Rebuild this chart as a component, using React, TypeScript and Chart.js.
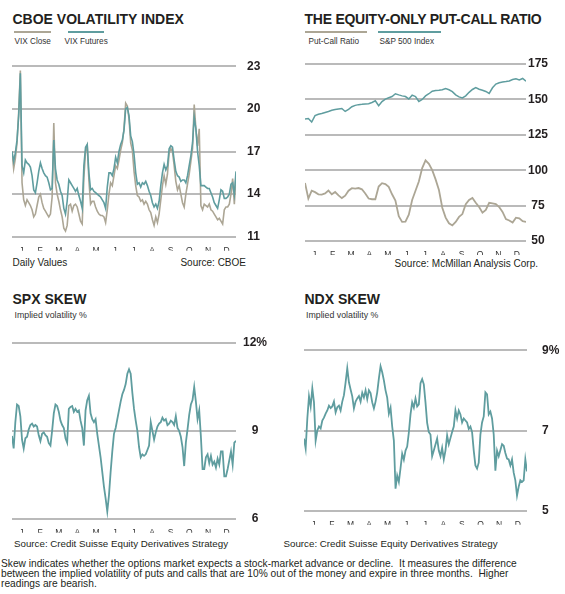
import React, { useEffect, useRef } from "react";
import { Chart, registerables } from "chart.js";

Chart.register(...registerables);

const FONT = "'Liberation Sans', Arial, sans-serif";
const TEAL = "#5f9d9f";
const TAN = "#aca695";
const GRID = "#bababa";

const MONTHS = ["J", "F", "M", "A", "M", "J", "J", "A", "S", "O", "N", "D"];

// CBOE Volatility Index (daily values, sampled)
const vixFutures = [
  17.0, 16.3, 16.9, 17.8, 19.5, 22.5, 16.0, 15.5, 16.4, 16.2,
  16.1, 15.9, 15.3, 14.3, 14.1, 14.8, 15.6, 16.2, 15.8, 15.5,
  15.3, 15.2, 14.8, 14.3, 14.4, 17.8, 15.8, 15.0, 14.7, 14.2,
  13.9, 13.0, 12.6, 13.5, 15.0, 14.8, 14.6, 14.4, 14.2, 14.4,
  13.9, 13.5, 13.0, 16.0, 17.3, 17.5, 15.5, 14.3, 14.4, 14.2,
  14.1, 14.0, 13.9, 13.8, 13.6, 13.4, 13.0, 14.5, 15.5, 15.5,
  15.3, 15.8, 16.6, 16.2, 17.0, 17.5, 17.8, 18.5, 20.0, 20.1,
  19.5, 18.1, 17.7, 16.8, 15.5, 14.7, 14.8, 14.5, 14.8, 14.7,
  14.9, 14.6, 14.2, 13.9, 13.4, 13.1, 13.3, 13.0, 13.5, 14.6,
  15.5, 16.1, 15.7, 16.0, 17.2, 17.4, 17.3, 16.4, 15.6, 15.3,
  15.2, 14.9, 15.0, 15.0, 14.8, 15.3, 16.0, 16.7, 17.6, 19.4,
  18.6, 17.0, 16.0, 14.6, 14.6, 14.6, 14.5, 14.4, 14.4, 14.1,
  13.8, 13.4, 13.2, 13.0, 13.6, 14.3, 14.2, 13.7, 13.7, 13.8,
  14.0, 14.7, 14.8, 14.0, 15.6,
];
const vixClose = [
  17.0, 15.8, 16.5, 17.6, 19.8, 22.7, 14.8, 13.6, 13.2, 13.6,
  13.4, 13.2, 12.9, 12.4, 12.6, 13.2, 13.8, 14.0, 13.4, 13.0,
  12.8, 12.6, 12.4, 12.6, 13.8, 19.0, 14.8, 14.0, 13.5, 12.9,
  12.4, 11.6, 11.4, 11.8, 13.2, 13.3, 12.8, 13.2, 13.3, 13.1,
  12.6, 12.1, 11.9, 15.2, 17.0, 17.4, 15.0, 13.3, 13.5, 13.5,
  13.1, 12.8, 12.6, 12.5, 12.5, 12.4, 12.0, 12.9, 14.0, 14.8,
  14.6, 15.3, 16.0, 15.8, 16.4, 17.1, 17.6, 18.6, 20.4, 20.2,
  19.3, 17.6, 17.1, 15.6, 14.6, 13.9, 13.8, 13.5, 13.6, 13.3,
  13.5, 13.3, 12.9, 12.7, 12.2, 11.8, 12.4, 12.0, 12.6, 13.6,
  14.6, 15.3, 14.7, 15.4, 16.9, 17.2, 17.0, 16.0, 14.9, 14.3,
  14.6, 14.0, 13.4, 13.1, 14.0, 14.7, 15.4, 16.3, 17.2, 20.3,
  18.6, 17.4, 18.6, 13.2, 12.9, 13.3, 13.2, 13.1, 13.3, 12.9,
  12.8, 12.6, 12.4, 12.2, 12.3, 12.1, 11.9, 12.9, 13.1, 13.1,
  13.3, 14.0, 15.1, 13.3, 15.3,
];

// Equity-only put-call ratio and S&P 500 index
const putCall = [
  91, 80, 85.5, 84.5, 83, 82.8, 83.6, 85.6, 83, 84.6,
  82.2, 80.3, 82, 85.5, 87.3, 87, 87.4, 86.5, 83.5, 80,
  79.5, 79.5, 88.5, 90.8, 90.2, 88.2, 83, 78.5, 67.5, 63.5,
  63.6, 68.6, 79, 85.5, 92, 101.5, 107, 104.5, 100, 93.5,
  86, 73.5, 66.5, 62.5, 61, 63.5, 67, 69, 76, 79,
  80.4, 77, 74, 70, 72, 77, 76.5, 76, 74, 70.5,
  65.5, 64.5, 63, 66.5, 66, 64, 63.5,
];
const sp500 = [
  136.1, 136.5, 134.0, 138.5, 139.5, 140.0, 140.8, 141.5, 142.3, 142.8,
  143.2, 143.6, 141.5, 143.0, 144.8, 145.8, 146.3, 146.5, 146.8, 147.0,
  147.8, 149.0, 145.5, 148.5, 150.2, 151.2, 152.0, 154.0, 153.2, 152.5,
  152.0, 150.3, 153.0, 152.0, 148.5, 150.0, 152.5, 154.0, 155.8, 156.3,
  156.5, 156.8, 157.6, 156.8, 155.5, 153.2, 151.8, 151.0, 152.5, 155.0,
  157.0, 158.4, 157.2, 156.5, 155.6, 154.2, 158.2, 160.8, 161.8, 162.3,
  162.6, 163.0, 164.0, 164.6, 163.8, 164.8, 162.8,
];

// SPX skew, implied volatility %
const spxSkew = [
  8.83, 8.4, 9.3, 9.9, 9.85, 9.5, 8.7, 8.4, 8.75, 8.8,
  9.05, 9.2, 9.25, 9.15, 9.2, 9.15, 8.85, 8.65, 8.9, 8.95,
  8.85, 8.8, 8.58, 8.5, 9.0, 9.6, 9.9, 9.85, 9.65, 9.35,
  9.2, 9.1, 8.75, 8.6, 9.75, 9.82, 9.85, 9.65, 9.75, 9.65,
  9.7, 9.35, 9.1, 8.5, 9.7, 10.05, 10.2, 9.6, 9.4, 9.3,
  9.4, 8.9, 8.5, 8.1, 7.6, 7.1, 6.7, 6.25, 6.8, 7.6,
  8.3, 8.9, 9.1, 9.4, 9.7, 10.0, 10.25, 10.4, 10.6, 10.95,
  11.1, 10.95, 10.3, 9.75, 9.35, 9.0, 8.45, 8.1, 8.2, 8.15,
  8.2, 8.35, 8.5, 9.3, 9.0, 8.7, 8.95, 9.15, 9.25, 9.3,
  9.45, 9.35, 9.4, 9.2, 9.25, 9.35, 9.3, 9.2, 9.5, 9.1,
  9.0, 8.8, 8.45, 7.8, 8.6, 9.05, 9.55, 9.9, 10.05, 10.5,
  10.0, 9.4, 9.7, 8.8, 7.7, 7.7, 8.1, 8.2, 7.9, 8.15,
  7.85, 7.95, 7.75, 8.05, 7.85, 8.3, 8.3, 7.45, 7.45, 7.7,
  8.0, 8.3, 7.85, 8.6, 8.66,
];

// NDX skew, implied volatility %
const ndxSkew = [
  6.8, 6.55, 7.3, 7.85, 7.6, 8.05, 7.7, 6.75, 7.0, 7.1,
  7.05, 7.25, 7.32, 7.42, 7.5, 7.62, 7.56, 7.6, 7.72, 7.45,
  7.58, 7.62, 7.5, 7.72, 7.88, 8.2, 8.55, 8.2, 8.02, 7.85,
  7.55, 7.72, 7.8, 7.86, 7.72, 7.94, 7.82, 8.0, 7.78, 8.0,
  7.93, 7.7, 7.55, 7.72, 7.95, 8.3, 8.6, 8.45, 8.25, 8.0,
  7.82, 7.42, 7.57, 7.1, 6.75, 5.55, 5.88, 5.72, 6.06, 6.42,
  6.27, 6.5, 6.6, 6.95, 7.4, 7.7, 7.57, 7.8, 7.6, 7.65,
  8.18, 8.28, 8.15, 7.7, 7.19, 6.96, 6.9, 6.36, 6.5, 6.65,
  6.8, 6.5, 6.36, 6.57, 6.28, 6.5, 6.88, 6.66, 6.81, 6.96,
  7.1, 7.5, 7.3, 7.5, 7.4, 7.2, 7.3, 7.25, 7.2, 7.04,
  7.1, 6.96, 6.5, 6.13, 6.05, 6.2, 6.9, 7.2, 7.35, 7.95,
  7.9, 7.4, 7.47, 7.3, 6.9, 6.0, 6.5, 6.36, 6.51, 6.66,
  6.62, 6.44, 6.3, 6.28, 6.13, 6.28, 5.95, 5.76, 5.38, 5.6,
  5.76, 5.72, 5.76, 6.28, 5.98,
];

type Series = { data: number[]; color: string; width: number };

type ChartProps = {
  left: number;
  top: number;
  width: number;
  height: number;
  padLeft: number;
  padTop: number;
  axisWidth: number;
  tickPad: number;
  crossAlign: "near" | "center" | "far";
  series: Series[];
  yMin: number;
  yMax: number;
  yStep: number;
  yLabel: (v: number) => string;
};

function LineChart(p: ChartProps) {
  const ref = useRef<HTMLCanvasElement>(null);
  useEffect(() => {
    const n = p.series[0].data.length;
    const monthPos = MONTHS.map((_, m) => ((m + 0.5) / 12) * (n - 1));
    const chart = new Chart(ref.current as HTMLCanvasElement, {
      type: "line",
      data: {
        datasets: p.series.map((s, i) => ({
          data: s.data.map((v, j) => ({ x: j, y: v })),
          borderColor: s.color,
          borderWidth: s.width,
          pointRadius: 0,
          tension: 0,
          fill: false,
          order: i,
        })),
      },
      options: {
        responsive: false,
        animation: false,
        events: [],
        layout: { padding: { left: p.padLeft, top: p.padTop, right: 0, bottom: 0 } },
        plugins: { legend: { display: false }, tooltip: { enabled: false } },
        scales: {
          x: {
            type: "linear",
            min: 0,
            max: n - 1,
            grid: { display: false },
            border: { display: false },
            afterBuildTicks: (axis: any) => {
              axis.ticks = monthPos.map((v) => ({ value: v }));
            },
            afterFit: (axis: any) => {
              axis.height = 14;
            },
            ticks: {
              autoSkip: false,
              maxRotation: 0,
              padding: 1,
              color: "#333333",
              font: { size: 8.5, family: FONT },
              callback: (_v: any, i: number) => MONTHS[i],
            },
          },
          y: {
            type: "linear",
            position: "right",
            min: p.yMin,
            max: p.yMax,
            afterFit: (axis: any) => {
              axis.width = p.axisWidth;
            },
            grid: { color: GRID, lineWidth: 2, drawTicks: false },
            border: { display: false },
            ticks: {
              stepSize: p.yStep,
              padding: p.tickPad,
              crossAlign: p.crossAlign,
              color: "#231f20",
              font: { size: 12, weight: "bold", family: FONT },
              callback: (v: any) => p.yLabel(Number(v)),
            },
          },
        },
      } as any,
    });
    return () => chart.destroy();
  }, []);
  return (
    <canvas
      ref={ref}
      width={p.width}
      height={p.height}
      style={{ position: "absolute", left: p.left, top: p.top, width: p.width, height: p.height }}
    />
  );
}

function Text(props: {
  left?: number;
  right?: number;
  top: number;
  size: number;
  bold?: boolean;
  color?: string;
  spacing?: number;
  children: React.ReactNode;
}) {
  const style: React.CSSProperties = {
    position: "absolute",
    top: props.top,
    fontFamily: FONT,
    fontSize: props.size,
    lineHeight: `${props.size}px`,
    fontWeight: props.bold ? 700 : 400,
    color: props.color || "#231f20",
    whiteSpace: "pre",
    letterSpacing: props.spacing ? `${props.spacing}px` : undefined,
  };
  if (props.left !== undefined) style.left = props.left;
  if (props.right !== undefined) style.right = props.right;
  return <div style={style}>{props.children}</div>;
}

function LegendLine(props: { left: number; width: number; top: number; color: string }) {
  return (
    <div
      style={{
        position: "absolute",
        left: props.left,
        top: props.top,
        width: props.width,
        height: 2,
        background: props.color,
      }}
    />
  );
}

export default function App() {
  return (
    <div
      style={{
        position: "absolute",
        left: 0,
        top: 0,
        width: 565,
        height: 594,
        background: "#ffffff",
        overflow: "hidden",
      }}
    >
      {/* Panel 1 */}
      <Text left={12.5} top={11.5} size={14} bold>
        CBOE VOLATILITY INDEX
      </Text>
      <LegendLine left={14} width={37} top={31} color={TAN} />
      <LegendLine left={68} width={36} top={31} color={TEAL} />
      <Text left={14.5} top={38} size={8.2} color="#333">
        VIX Close
      </Text>
      <Text left={64.5} top={38} size={8.2} color="#333">
        VIX Futures
      </Text>
      <LineChart
        left={0}
        top={48}
        width={282}
        height={207}
        padLeft={12}
        padTop={16}
        axisWidth={46}
        tickPad={11}
        crossAlign="center"
        series={[
          { data: vixFutures, color: TEAL, width: 1.6 },
          { data: vixClose, color: TAN, width: 1.6 },
        ]}
        yMin={11}
        yMax={23}
        yStep={3}
        yLabel={(v) => String(v)}
      />
      <Text left={12.5} top={258} size={10}>
        Daily Values
      </Text>
      <Text right={565 - 246} top={258} size={10}>
        Source: CBOE
      </Text>

      {/* Panel 2 */}
      <Text left={304.5} top={11.5} size={14} bold spacing={-0.25}>
        THE EQUITY-ONLY PUT-CALL RATIO
      </Text>
      <LegendLine left={305} width={62} top={31} color={TAN} />
      <LegendLine left={378} width={63} top={31} color={TEAL} />
      <Text left={308.5} top={38} size={8.2} color="#333">
        Put-Call Ratio
      </Text>
      <Text left={379.5} top={38} size={8.2} color="#333">
        S&amp;P 500 Index
      </Text>
      <LineChart
        left={282}
        top={48}
        width={283}
        height={207}
        padLeft={23}
        padTop={16}
        axisWidth={39}
        tickPad={2}
        crossAlign="center"
        series={[
          { data: sp500, color: TEAL, width: 1.5 },
          { data: putCall, color: TAN, width: 1.8 },
        ]}
        yMin={50}
        yMax={175}
        yStep={25}
        yLabel={(v) => String(v)}
      />
      <Text right={565 - 538} top={258.5} size={10}>
        Source: McMillan Analysis Corp.
      </Text>

      {/* Panel 3 */}
      <Text left={12.5} top={291.5} size={14} bold>
        SPX SKEW
      </Text>
      <Text left={14.5} top={311} size={8.8} color="#333">
        Implied volatility %
      </Text>
      <LineChart
        left={0}
        top={328}
        width={282}
        height={205}
        padLeft={12}
        padTop={15}
        axisWidth={46}
        tickPad={7}
        crossAlign="center"
        series={[{ data: spxSkew, color: TEAL, width: 1.8 }]}
        yMin={6}
        yMax={12}
        yStep={3}
        yLabel={(v) => (v === 12 ? "12%" : String(v))}
      />
      <Text left={14} top={538.5} size={9.75}>
        Source: Credit Suisse Equity Derivatives Strategy
      </Text>

      {/* Panel 4 */}
      <Text left={304.5} top={291.5} size={14} bold>
        NDX SKEW
      </Text>
      <Text left={306} top={311} size={8.8} color="#333">
        Implied volatility %
      </Text>
      <LineChart
        left={282}
        top={328}
        width={283}
        height={205}
        padLeft={22}
        padTop={15}
        axisWidth={38}
        tickPad={15}
        crossAlign="near"
        series={[{ data: ndxSkew, color: TEAL, width: 1.8 }]}
        yMin={5}
        yMax={9}
        yStep={2}
        yLabel={(v) => (v === 9 ? "9%" : String(v))}
      />
      <Text left={283.5} top={538.5} size={9.75}>
        Source: Credit Suisse Equity Derivatives Strategy
      </Text>

      {/* Footer */}
      <div
        style={{
          position: "absolute",
          left: 1,
          top: 559,
          fontFamily: FONT,
          fontSize: 10.2,
          lineHeight: "9.8px",
          color: "#231f20",
          whiteSpace: "pre",
        }}
      >
        {"Skew indicates whether the options market expects a stock-market advance or decline.  It measures the difference\n" +
          "between the implied volatility of puts and calls that are 10% out of the money and expire in three months.  Higher\n" +
          "readings are bearish."}
      </div>
    </div>
  );
}
